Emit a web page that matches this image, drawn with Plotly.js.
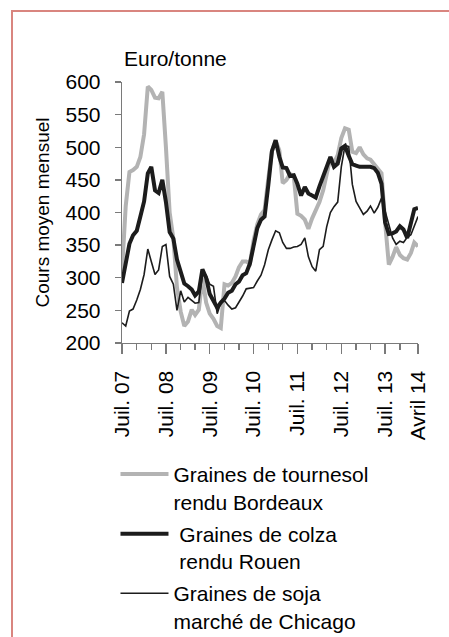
<!DOCTYPE html>
<html>
<head>
<meta charset="utf-8">
<script src="https://cdn.plot.ly/plotly-3.0.1.min.js"></script>
<style>
  html, body { margin: 0; padding: 0; background: #ffffff; }
  #chart { width: 449px; height: 637px; }
  #frame { position: absolute; left: 11px; top: 10px; width: 460px; height: 660px;
           border-top: 2px solid #d9857f; border-left: 2px solid #d9857f; pointer-events: none; }
</style>
</head>
<body>
<div id="chart"></div>
<div id="frame"></div>
<script>
// Monthly series, July 2007 -> April 2014 (82 months), euro / tonne
const startYear = 2007, startMonth = 7, nMonths = 82;

const tournesol = [310, 410, 462, 465, 470, 485, 520, 593, 588, 576, 575, 585,
  500, 400, 360, 285, 248, 226, 233, 251, 243, 251, 300, 262,
  245, 237, 226, 223, 290, 288, 292, 302, 316, 325, 325, 322,
  357, 382, 397, 404, 452, 494, 510, 495, 445, 450, 459, 456,
  398, 395, 389, 375, 391, 402, 416, 434, 458, 484, 476, 488,
  514, 529, 527, 493, 491, 500, 489, 483, 481, 474, 468, 460,
  385, 320, 332, 347, 335, 330, 328, 338, 354, 348];

const colza = [292, 326, 352, 365, 372, 394, 417, 460, 470, 434, 430, 450,
  416, 370, 360, 328, 310, 291, 287, 282, 273, 279, 313, 300,
  275, 264, 254, 262, 268, 277, 280, 290, 294, 304, 307, 322,
  350, 376, 389, 394, 442, 494, 511, 485, 469, 468, 456, 457,
  444, 426, 439, 429, 426, 423, 440, 454, 470, 485, 470, 475,
  498, 502, 487, 474, 472, 470, 470, 470, 470, 468, 461, 444,
  385, 367, 368, 371, 379, 374, 361, 384, 405, 407];

const soja = [231, 226, 249, 252, 266, 282, 305, 344, 325, 305, 312, 348,
  351, 302, 290, 250, 280, 263, 270, 266, 261, 262, 305, 304,
  290, 287, 245, 262, 265, 258, 252, 254, 262, 272, 283, 284,
  285, 295, 304, 320, 343, 358, 372, 369, 354, 345, 345, 347,
  348, 351, 361, 332, 317, 310, 343, 348, 378, 400, 409, 416,
  470, 503, 501, 443, 417, 407, 397, 402, 410, 399, 408, 422,
  403, 383, 361, 351, 356, 354, 362, 366, 378, 394];

const tickDates = ['2007-07-01', '2008-07-01', '2009-07-01', '2010-07-01',
  '2011-07-01', '2012-07-01', '2013-07-01', '2014-04-01'];
const tickLabels = ['Juil. 07', 'Juil. 08', 'Juil. 09', 'Juil. 10',
  'Juil. 11', 'Juil. 12', 'Juil. 13', 'Avril 14'];
const minorTickDates = ['2007-11-01', '2008-03-01', '2008-11-01', '2009-03-01',
  '2009-11-01', '2010-03-01', '2010-11-01', '2011-03-01', '2011-11-01', '2012-03-01',
  '2012-11-01', '2013-03-01', '2013-11-01'];

const seriesNames = ['Graines de tournesol<br>rendu Bordeaux',
  '\u00a0Graines de colza<br>\u00a0rendu Rouen',
  'Graines de soja<br>marché de Chicago'];

// month axis
const months = [];
for (let i = 0; i < nMonths; i++) {
  const y = startYear + Math.floor((startMonth - 1 + i) / 12);
  const m = ((startMonth - 1 + i) % 12) + 1;
  months.push(y + '-' + String(m).padStart(2, '0') + '-01');
}

const FONT = 'Liberation Sans, Arial, sans-serif';

const traces = [
  { x: months, y: tournesol, name: seriesNames[0], type: 'scatter', mode: 'lines',
    line: { color: '#b3b3b3', width: 4 }, legendgroup: 'a' },
  { x: months, y: colza, name: seriesNames[1], type: 'scatter', mode: 'lines',
    line: { color: '#1c1c1c', width: 4 }, legendgroup: 'b' },
  { x: months, y: soja, name: seriesNames[2], type: 'scatter', mode: 'lines',
    line: { color: '#1c1c1c', width: 1.6 }, legendgroup: 'c' }
];

const layout = {
  width: 449, height: 637,
  margin: { l: 122, r: 31, t: 82, b: 294, autoexpand: false },
  paper_bgcolor: '#ffffff', plot_bgcolor: '#ffffff',
  font: { family: FONT, size: 21, color: '#000000' },
  showlegend: true,
  legend: { x: -0.022, xanchor: 'left', y: -0.425, yanchor: 'top',
    orientation: 'v', valign: 'top', tracegroupgap: 2, itemwidth: 48,
    font: { family: FONT, size: 21, color: '#000000' }, bgcolor: 'rgba(0,0,0,0)' },
  xaxis: {
    type: 'date', range: ['2007-07-01', '2014-04-01'],
    tickmode: 'array', tickvals: tickDates, ticktext: tickLabels,
    tickangle: -90, ticks: 'outside', ticklen: 10, tickwidth: 1.3, tickcolor: '#7a7a7a',
    showline: true, linecolor: '#7a7a7a', linewidth: 1.3,
    showgrid: false, zeroline: false, ticklabelstandoff: 8,
    tickfont: { family: FONT, size: 21, color: '#000000' },
    minor: { tickmode: 'array', tickvals: minorTickDates, ticks: 'outside', ticklen: 6,
      tickwidth: 1.3, tickcolor: '#7a7a7a', showgrid: false }
  },
  yaxis: {
    range: [200, 600], tickmode: 'linear', tick0: 200, dtick: 50,
    ticks: 'outside', ticklen: 6, tickwidth: 1.3, tickcolor: '#7a7a7a',
    showline: true, linecolor: '#7a7a7a', linewidth: 1.3,
    showgrid: false, zeroline: false, ticklabelstandoff: 10,
    tickfont: { family: FONT, size: 21, color: '#000000' },
    title: { text: 'Cours moyen mensuel', standoff: 10,
      font: { family: FONT, size: 19, color: '#000000' } }
  },
  annotations: [
    { text: 'Euro/tonne', xref: 'paper', yref: 'paper', x: 0.0, y: 1.04,
      xanchor: 'left', yanchor: 'bottom', showarrow: false,
      font: { family: FONT, size: 21, color: '#000000' } }
  ]
};

Plotly.newPlot('chart', traces, layout, { displayModeBar: false, staticPlot: true });
</script>
</body>
</html>
